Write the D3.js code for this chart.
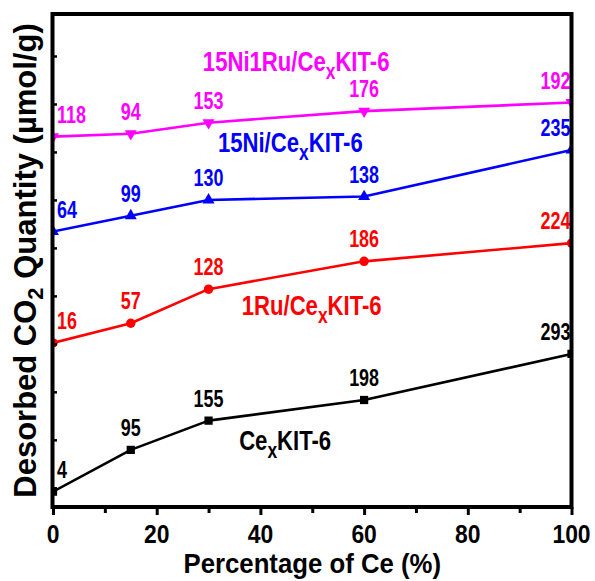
<!DOCTYPE html>
<html>
<head>
<meta charset="utf-8">
<script src="https://cdn.jsdelivr.net/npm/d3@7"></script>
<style>
  html, body { margin: 0; padding: 0; background: #fff; }
  svg { display: block; }
  text { font-family: "Liberation Sans", Arial, sans-serif; font-weight: bold; }
</style>
</head>
<body>
<svg id="chart" width="595" height="581"></svg>
<script>
// ---------- data ----------
const xValues = [0, 15, 30, 60, 100];               // Percentage of Ce (%)
const xTickLabels = ["0", "20", "40", "60", "80", "100"];

// plotted (offset) positions of each series, in arbitrary y-units
const cexValues    = [-8, 79, 140, 183, 279];
const ruValues     = [302, 343, 414, 472, 510];
const niValues     = [534, 567, 600, 607, 704];
const niRuValues   = [732, 738, 761, 785, 803];

// printed value labels (µmol/g)
const cexLabels  = ["4", "95", "155", "198", "293"];
const ruLabels   = ["16", "57", "128", "186", "224"];
const niLabels   = ["64", "99", "130", "138", "235"];
const niRuLabels = ["118", "94", "153", "176", "192"];

// series names: [prefix, subscript, suffix]
const seriesNames = [
  ["Ce", "x", "KIT-6"],
  ["1Ru/Ce", "x", "KIT-6"],
  ["15Ni/Ce", "x", "KIT-6"],
  ["15Ni1Ru/Ce", "x", "KIT-6"]
];
// name annotation anchor in data coordinates [x %, y units]
const nameAnchors = [[35.9, 79], [36.4, 360], [31.8, 700], [28.9, 869]];

// ---------- setup ----------
const svg = d3.select("#chart");
const pLeft = 53, pRight = 571.5, pTop = 14, pBottom = 507;

const x = d3.scaleLinear().domain([0, 100]).range([pLeft, pRight]);
const y = d3.scaleLinear().domain([-40, 987.5]).range([pBottom, pTop]);

const colors = ["#000000", "#ff0000", "#0000ff", "#ff00ff"];
const symbols = [d3.symbolSquare, d3.symbolCircle, d3.symbolTriangle, d3.symbolTriangle];
const symSizes = [68, 70, 62, 62];
const symRot = [0, 0, 0, 180];

const series = [
  { vals: cexValues, labels: cexLabels },
  { vals: ruValues, labels: ruLabels },
  { vals: niValues, labels: niLabels },
  { vals: niRuValues, labels: niRuLabels }
];

svg.append("defs").append("clipPath").attr("id", "plotclip")
  .append("rect").attr("x", pLeft).attr("y", pTop)
  .attr("width", pRight - pLeft).attr("height", pBottom - pTop);

const plot = svg.append("g").attr("clip-path", "url(#plotclip)");

const line = d3.line().x((d, i) => x(xValues[i])).y(d => y(d));

series.forEach((s, k) => {
  plot.append("path").datum(s.vals)
    .attr("d", line).attr("fill", "none")
    .attr("stroke", colors[k]).attr("stroke-width", 2.6)
    .attr("stroke-linejoin", "round");
  plot.selectAll(null).data(s.vals).enter().append("path")
    .attr("d", d3.symbol().type(symbols[k]).size(symSizes[k]))
    .attr("transform", (d, i) => `translate(${x(xValues[i])},${y(d)}) rotate(${symRot[k]})`)
    .attr("fill", colors[k]);
});

// value labels
series.forEach((s, k) => {
  s.vals.forEach((v, i) => {
    const n = s.vals.length;
    const anchor = i === 0 ? "start" : (i === n - 1 ? "end" : "middle");
    const dx = i === 0 ? 4 : (i === n - 1 ? -1 : 0);
    svg.append("text")
      .attr("transform", `translate(${x(xValues[i]) + dx},${y(v) - 14}) scale(0.78,1)`)
      .attr("text-anchor", anchor)
      .attr("font-size", 23)
      .attr("fill", colors[k])
      .text(s.labels[i]);
  });
});

// series name labels
seriesNames.forEach((nm, k) => {
  const t = svg.append("text")
    .attr("transform", `translate(${x(nameAnchors[k][0])},${y(nameAnchors[k][1])}) scale(0.79,1)`)
    .attr("font-size", 28)
    .attr("fill", colors[k]);
  t.append("tspan").text(nm[0]);
  t.append("tspan").attr("font-size", 22).attr("dy", 8).text(nm[1]);
  t.append("tspan").attr("dy", -8).text(nm[2]);
});

// x axis ticks
const xAxis = d3.axisBottom(x).tickValues(d3.range(0, 101, 10))
  .tickSize(8).tickFormat("");
const xg = svg.append("g").attr("transform", `translate(0,${pBottom})`).call(xAxis);
xg.select(".domain").remove();
xg.selectAll(".tick line").attr("stroke", "#000").attr("stroke-width", 3)
  .attr("y2", d => (d % 20 === 0 ? 8 : 6));

// x tick labels
d3.range(0, 101, 20).forEach((v, i) => {
  svg.append("text")
    .attr("transform", `translate(${x(v)},543) scale(0.88,1)`)
    .attr("text-anchor", "middle")
    .attr("font-size", 26)
    .attr("fill", "#000")
    .text(xTickLabels[i]);
});

// y ticks (inward)
const yAxis = d3.axisRight(y).tickValues(d3.range(0, 901, 100)).tickSize(4).tickFormat("");
const yg = svg.append("g").attr("transform", `translate(${pLeft},0)`).call(yAxis);
yg.select(".domain").remove();
yg.selectAll(".tick line").attr("stroke", "#000").attr("stroke-width", 2.5);

// frame
svg.append("rect").attr("x", 52.5).attr("y", pTop).attr("width", pRight - 52.5).attr("height", pBottom - pTop)
  .attr("fill", "none").attr("stroke", "#000").attr("stroke-width", 4);

// axis titles
svg.append("text")
  .attr("transform", `translate(${(pLeft + pRight) / 2},573) scale(0.92,1)`)
  .attr("text-anchor", "middle")
  .attr("font-size", 28)
  .text("Percentage of Ce (%)");

const yt = svg.append("text")
  .attr("transform", `translate(36,${(pTop + pBottom) / 2}) rotate(-90)`)
  .attr("text-anchor", "middle")
  .attr("font-size", 31);
yt.append("tspan").text("Desorbed CO");
yt.append("tspan").attr("font-size", 22).attr("dy", 7).text("2");
yt.append("tspan").attr("dy", -7).text(" Quantity (\u00b5mol/g)");
</script>
</body>
</html>
